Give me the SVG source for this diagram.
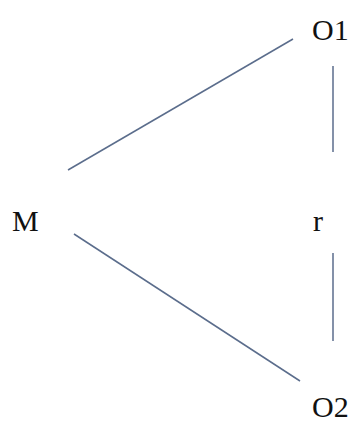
<svg xmlns="http://www.w3.org/2000/svg" width="357" height="433" viewBox="0 0 357 433">
<style>
.lbl{font-family:"Liberation Serif","Times New Roman",serif;font-size:30px;fill:#111111}
.edge{stroke:#5b6d8c;stroke-width:1.5;fill:none}
</style>
<rect width="357" height="433" fill="#ffffff"/>
<g id="connectors">
<line class="edge" x1="68" y1="170" x2="293" y2="39"/>
<line class="edge" x1="333" y1="66" x2="333" y2="152"/>
<line class="edge" x1="74" y1="234" x2="300" y2="381"/>
<line class="edge" x1="333" y1="253" x2="333" y2="341"/>
</g>
<g id="node-O1"><text class="lbl" x="312" y="40">O1</text></g>
<g id="node-M"><text class="lbl" x="12" y="231">M</text></g>
<g id="node-r"><text class="lbl" x="313" y="231">r</text></g>
<g id="node-O2"><text class="lbl" x="312" y="417">O2</text></g>
</svg>
